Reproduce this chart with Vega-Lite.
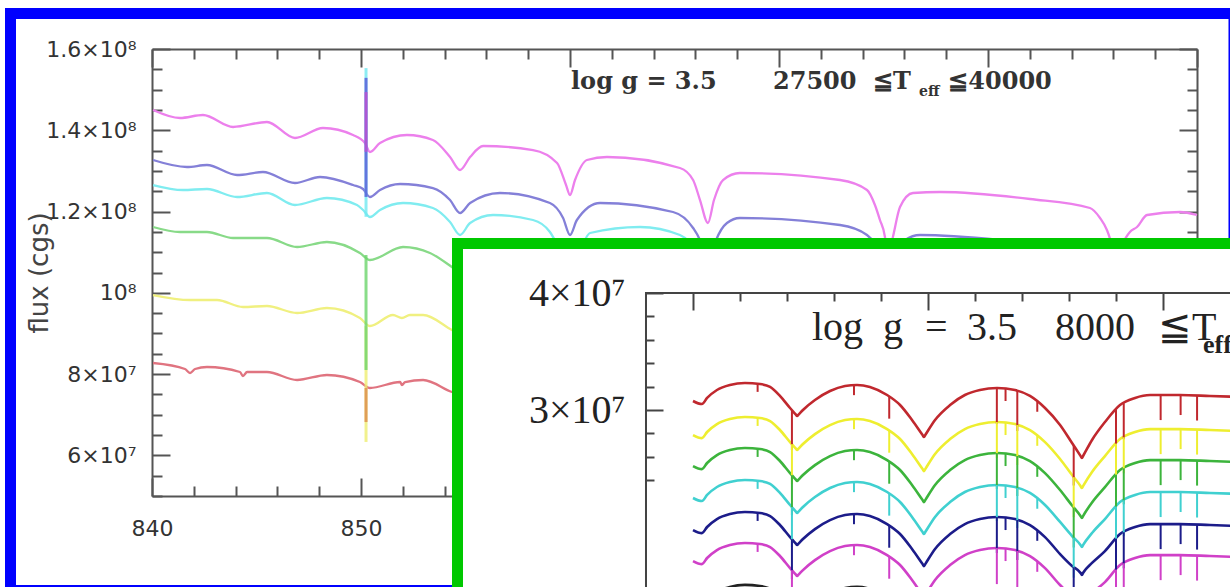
{
"$schema":"https://vega.github.io/schema/vega-lite/v6.json",
"width":1045,"height":447,
"padding":{"left":152,"top":49,"right":33,"bottom":91},
"autosize":{"type":"none"},
"background":"white",
"config":{"view":{"stroke":null}},
"datasets":{
"bm":[{"w":840.05,"f":1.4499e8},{"w":841.34,"f":1.4302e8},{"w":842.44,"f":1.4376e8},{"w":843.88,"f":1.4081e8},{"w":845.5,"f":1.4204e8},{"w":846.84,"f":1.381e8},{"w":848.18,"f":1.4056e8},{"w":849.62,"f":1.3884e8},{"w":850.19,"f":1.3687e8},{"w":850.43,"f":1.3465e8},{"w":850.91,"f":1.3687e8},{"w":852.2,"f":1.3884e8},{"w":853.44,"f":1.3761e8},{"w":854.26,"f":1.3342e8},{"w":854.74,"f":1.3022e8},{"w":855.22,"f":1.3342e8},{"w":855.84,"f":1.3613e8},{"w":858.23,"f":1.3514e8},{"w":859.38,"f":1.3195e8},{"w":859.81,"f":1.2653e8},{"w":860,"f":1.2407e8},{"w":860.24,"f":1.2776e8},{"w":860.81,"f":1.3268e8},{"w":861.77,"f":1.3342e8},{"w":865.26,"f":1.3072e8},{"w":865.89,"f":1.2776e8},{"w":866.22,"f":1.2284e8},{"w":866.6,"f":1.1718e8},{"w":866.89,"f":1.2284e8},{"w":867.32,"f":1.2776e8},{"w":868.13,"f":1.2949e8},{"w":872.92,"f":1.2776e8},{"w":874.21,"f":1.253e8},{"w":874.59,"f":1.2161e8},{"w":874.83,"f":1.1792e8},{"w":875.07,"f":1.1374e8},{"w":875.17,"f":1.0808e8},{"w":875.45,"f":1.1374e8},{"w":875.79,"f":1.2112e8},{"w":876.41,"f":1.2456e8},{"w":877.7,"f":1.2481e8},{"w":882.01,"f":1.2309e8},{"w":884.88,"f":1.2087e8},{"w":885.36,"f":1.1841e8},{"w":885.69,"f":1.1546e8},{"w":885.93,"f":1.1177e8},{"w":886.12,"f":1.0808e8},{"w":886.41,"f":1.1177e8},{"w":886.79,"f":1.1497e8},{"w":887.13,"f":1.162e8},{"w":887.61,"f":1.1915e8},{"w":889.19,"f":1.1989e8},{"w":890,"f":1.1915e8}],
"bb":[{"w":840.05,"f":1.3268e8},{"w":841.67,"f":1.3096e8},{"w":842.63,"f":1.3145e8},{"w":844.07,"f":1.2899e8},{"w":845.31,"f":1.2973e8},{"w":846.84,"f":1.2702e8},{"w":848.04,"f":1.285e8},{"w":849.62,"f":1.2653e8},{"w":850.1,"f":1.2555e8},{"w":850.43,"f":1.2358e8},{"w":850.91,"f":1.253e8},{"w":851.87,"f":1.2678e8},{"w":853.44,"f":1.2579e8},{"w":854.26,"f":1.2284e8},{"w":854.74,"f":1.1964e8},{"w":855.22,"f":1.221e8},{"w":856.65,"f":1.2456e8},{"w":859.04,"f":1.221e8},{"w":859.67,"f":1.1841e8},{"w":860,"f":1.1423e8},{"w":860.33,"f":1.1792e8},{"w":861.44,"f":1.221e8},{"w":864.93,"f":1.1989e8},{"w":865.89,"f":1.1595e8},{"w":866.22,"f":1.13e8},{"w":866.6,"f":1.0685e8},{"w":866.99,"f":1.13e8},{"w":867.51,"f":1.1718e8},{"w":868.13,"f":1.1841e8},{"w":872.92,"f":1.1669e8},{"w":874.21,"f":1.1423e8},{"w":874.83,"f":1.0931e8},{"w":875.17,"f":1.0315e8},{"w":875.55,"f":1.0931e8},{"w":876.03,"f":1.13e8},{"w":876.75,"f":1.1423e8},{"w":880.57,"f":1.13e8},{"w":884.88,"f":1.1004e8},{"w":886.22,"f":0.9823e8},{"w":887.27,"f":1.0931e8},{"w":890,"f":1.0857e8}],
"bc":[{"w":840.05,"f":1.2653e8},{"w":841.48,"f":1.253e8},{"w":842.63,"f":1.2555e8},{"w":844.07,"f":1.2358e8},{"w":845.5,"f":1.2456e8},{"w":846.84,"f":1.2161e8},{"w":848.37,"f":1.2333e8},{"w":849.81,"f":1.2161e8},{"w":850.1,"f":1.2038e8},{"w":850.43,"f":1.1866e8},{"w":850.91,"f":1.2038e8},{"w":852.01,"f":1.221e8},{"w":853.44,"f":1.2087e8},{"w":854.26,"f":1.1743e8},{"w":854.74,"f":1.1423e8},{"w":855.22,"f":1.1718e8},{"w":856.32,"f":1.1915e8},{"w":858.23,"f":1.1792e8},{"w":859.04,"f":1.1497e8},{"w":859.52,"f":1.1054e8},{"w":860,"f":1.0561e8},{"w":860.48,"f":1.1054e8},{"w":860.96,"f":1.1472e8},{"w":863.35,"f":1.162e8},{"w":865.26,"f":1.1423e8},{"w":866.22,"f":1.0808e8},{"w":866.6,"f":1.0192e8},{"w":867.18,"f":1.0808e8},{"w":868.13,"f":1.1177e8},{"w":872.92,"f":1.1004e8},{"w":875.17,"f":0.9577e8},{"w":877.7,"f":1.0758e8},{"w":890,"f":1.0192e8}],
"bg":[{"w":840.05,"f":1.162e8},{"w":841.34,"f":1.1497e8},{"w":842.63,"f":1.1497e8},{"w":843.88,"f":1.1349e8},{"w":845.5,"f":1.1349e8},{"w":846.94,"f":1.1127e8},{"w":848.37,"f":1.1251e8},{"w":849.95,"f":1.098e8},{"w":850.43,"f":1.0808e8},{"w":852.01,"f":1.1127e8},{"w":853.3,"f":1.098e8},{"w":854.35,"f":1.0635e8},{"w":855.22,"f":1.0315e8},{"w":857.61,"f":1.0438e8},{"w":859.67,"f":0.9823e8},{"w":860,"f":0.9331e8},{"w":861.44,"f":1.0069e8}],
"by":[{"w":840.05,"f":0.9946e8},{"w":841.82,"f":0.9823e8},{"w":843.11,"f":0.9823e8},{"w":844.35,"f":0.9651e8},{"w":845.5,"f":0.9676e8},{"w":846.94,"f":0.9503e8},{"w":848.37,"f":0.9626e8},{"w":849.95,"f":0.938e8},{"w":850.43,"f":0.9183e8},{"w":851.53,"f":0.9454e8},{"w":851.96,"f":0.938e8},{"w":852.34,"f":0.9454e8},{"w":852.97,"f":0.9454e8},{"w":854.35,"f":0.9085e8},{"w":855.69,"f":0.8716e8},{"w":858.09,"f":0.8839e8},{"w":860,"f":0.7855e8}],
"br":[{"w":840.05,"f":0.8273e8},{"w":841.58,"f":0.8125e8},{"w":841.82,"f":0.8027e8},{"w":842.06,"f":0.8125e8},{"w":842.63,"f":0.8174e8},{"w":844.21,"f":0.8051e8},{"w":844.35,"f":0.7953e8},{"w":844.55,"f":0.8051e8},{"w":845.5,"f":0.8051e8},{"w":846.94,"f":0.7855e8},{"w":848.37,"f":0.7978e8},{"w":849.95,"f":0.7805e8},{"w":850.43,"f":0.7658e8},{"w":851.87,"f":0.7805e8},{"w":851.96,"f":0.7731e8},{"w":852.11,"f":0.7805e8},{"w":852.97,"f":0.7855e8},{"w":854.35,"f":0.7559e8},{"w":855.69,"f":0.7362e8},{"w":860,"f":0.687e8}],
"bspk":[{"s":"by","w":850.24,"t":0.918e8,"b":0.633e8},{"s":"br","w":850.24,"t":0.766e8,"b":0.682e8},{"s":"bg","w":850.24,"t":1.093e8,"b":0.81e8},{"s":"bc","w":850.24,"t":1.187e8,"b":1.553e8},{"s":"bb","w":850.24,"t":1.236e8,"b":1.529e8},{"s":"bm","w":850.24,"t":1.347e8,"b":1.494e8}],
"fR":[{"w":850,"f":3.077e7},{"w":850.38,"f":3.051e7},{"w":850.6,"f":3.103e7},{"w":851.02,"f":3.171e7},{"w":851.57,"f":3.214e7},{"w":852.21,"f":3.231e7},{"w":852.85,"f":3.222e7},{"w":853.28,"f":3.197e7},{"w":853.7,"f":3.12e7},{"w":854.13,"f":3.017e7},{"w":854.43,"f":2.949e7},{"w":854.68,"f":3.0e7},{"w":855.19,"f":3.085e7},{"w":855.83,"f":3.162e7},{"w":856.47,"f":3.205e7},{"w":856.98,"f":3.214e7},{"w":857.53,"f":3.197e7},{"w":858.26,"f":3.128e7},{"w":858.81,"f":3.043e7},{"w":859.32,"f":2.915e7},{"w":859.83,"f":2.769e7},{"w":860.3,"f":2.915e7},{"w":860.94,"f":3.043e7},{"w":861.57,"f":3.128e7},{"w":862.21,"f":3.171e7},{"w":862.94,"f":3.188e7},{"w":863.7,"f":3.171e7},{"w":864.34,"f":3.12e7},{"w":864.98,"f":3.017e7},{"w":865.62,"f":2.872e7},{"w":866.13,"f":2.718e7},{"w":866.55,"f":2.59e7},{"w":866.98,"f":2.744e7},{"w":867.53,"f":2.897e7},{"w":868.17,"f":3.043e7},{"w":868.81,"f":3.103e7},{"w":869.45,"f":3.128e7},{"w":870.72,"f":3.128e7},{"w":872,"f":3.12e7},{"w":873.28,"f":3.111e7},{"w":854.37,"f":2.963e7},{"w":854.49,"f":2.961e7},{"w":859.77,"f":2.786e7},{"w":859.89,"f":2.788e7},{"w":866.49,"f":2.608e7},{"w":866.61,"f":2.611e7}],
"fY":[{"w":850,"f":2.786e7},{"w":850.38,"f":2.76e7},{"w":850.6,"f":2.812e7},{"w":851.02,"f":2.88e7},{"w":851.57,"f":2.923e7},{"w":852.21,"f":2.94e7},{"w":852.85,"f":2.931e7},{"w":853.28,"f":2.906e7},{"w":853.7,"f":2.829e7},{"w":854.13,"f":2.726e7},{"w":854.43,"f":2.658e7},{"w":854.68,"f":2.709e7},{"w":855.19,"f":2.794e7},{"w":855.83,"f":2.871e7},{"w":856.47,"f":2.914e7},{"w":856.98,"f":2.923e7},{"w":857.53,"f":2.906e7},{"w":858.26,"f":2.837e7},{"w":858.81,"f":2.752e7},{"w":859.32,"f":2.624e7},{"w":859.83,"f":2.478e7},{"w":860.3,"f":2.624e7},{"w":860.94,"f":2.752e7},{"w":861.57,"f":2.837e7},{"w":862.21,"f":2.88e7},{"w":862.94,"f":2.897e7},{"w":863.7,"f":2.88e7},{"w":864.34,"f":2.829e7},{"w":864.98,"f":2.726e7},{"w":865.62,"f":2.581e7},{"w":866.13,"f":2.444e7},{"w":866.55,"f":2.333e7},{"w":866.98,"f":2.47e7},{"w":867.53,"f":2.606e7},{"w":868.17,"f":2.752e7},{"w":868.81,"f":2.812e7},{"w":869.45,"f":2.837e7},{"w":870.72,"f":2.837e7},{"w":872,"f":2.829e7},{"w":873.28,"f":2.82e7},{"w":854.37,"f":2.672e7},{"w":854.49,"f":2.67e7},{"w":859.77,"f":2.495e7},{"w":859.89,"f":2.497e7},{"w":866.49,"f":2.351e7},{"w":866.61,"f":2.354e7}],
"fG":[{"w":850,"f":2.521e7},{"w":850.38,"f":2.495e7},{"w":850.6,"f":2.547e7},{"w":851.02,"f":2.615e7},{"w":851.57,"f":2.658e7},{"w":852.21,"f":2.675e7},{"w":852.85,"f":2.666e7},{"w":853.28,"f":2.641e7},{"w":853.7,"f":2.564e7},{"w":854.13,"f":2.461e7},{"w":854.43,"f":2.393e7},{"w":854.68,"f":2.444e7},{"w":855.19,"f":2.529e7},{"w":855.83,"f":2.606e7},{"w":856.47,"f":2.649e7},{"w":856.98,"f":2.658e7},{"w":857.53,"f":2.641e7},{"w":858.26,"f":2.572e7},{"w":858.81,"f":2.487e7},{"w":859.32,"f":2.359e7},{"w":859.83,"f":2.213e7},{"w":860.3,"f":2.359e7},{"w":860.94,"f":2.487e7},{"w":861.57,"f":2.572e7},{"w":862.21,"f":2.615e7},{"w":862.94,"f":2.632e7},{"w":863.7,"f":2.615e7},{"w":864.34,"f":2.564e7},{"w":864.98,"f":2.461e7},{"w":865.62,"f":2.316e7},{"w":866.13,"f":2.184e7},{"w":866.55,"f":2.077e7},{"w":866.98,"f":2.21e7},{"w":867.53,"f":2.341e7},{"w":868.17,"f":2.487e7},{"w":868.81,"f":2.547e7},{"w":869.45,"f":2.572e7},{"w":870.72,"f":2.572e7},{"w":872,"f":2.564e7},{"w":873.28,"f":2.555e7},{"w":854.37,"f":2.407e7},{"w":854.49,"f":2.405e7},{"w":859.77,"f":2.23e7},{"w":859.89,"f":2.232e7},{"w":866.49,"f":2.095e7},{"w":866.61,"f":2.098e7}],
"fC":[{"w":850,"f":2.248e7},{"w":850.38,"f":2.222e7},{"w":850.6,"f":2.274e7},{"w":851.02,"f":2.342e7},{"w":851.57,"f":2.385e7},{"w":852.21,"f":2.402e7},{"w":852.85,"f":2.393e7},{"w":853.28,"f":2.368e7},{"w":853.7,"f":2.291e7},{"w":854.13,"f":2.188e7},{"w":854.43,"f":2.12e7},{"w":854.68,"f":2.171e7},{"w":855.19,"f":2.256e7},{"w":855.83,"f":2.333e7},{"w":856.47,"f":2.376e7},{"w":856.98,"f":2.385e7},{"w":857.53,"f":2.368e7},{"w":858.26,"f":2.299e7},{"w":858.81,"f":2.214e7},{"w":859.32,"f":2.086e7},{"w":859.83,"f":1.94e7},{"w":860.3,"f":2.086e7},{"w":860.94,"f":2.214e7},{"w":861.57,"f":2.299e7},{"w":862.21,"f":2.342e7},{"w":862.94,"f":2.359e7},{"w":863.7,"f":2.342e7},{"w":864.34,"f":2.291e7},{"w":864.98,"f":2.188e7},{"w":865.62,"f":2.043e7},{"w":866.13,"f":1.923e7},{"w":866.55,"f":1.829e7},{"w":866.98,"f":1.949e7},{"w":867.53,"f":2.068e7},{"w":868.17,"f":2.214e7},{"w":868.81,"f":2.274e7},{"w":869.45,"f":2.299e7},{"w":870.72,"f":2.299e7},{"w":872,"f":2.291e7},{"w":873.28,"f":2.282e7},{"w":854.37,"f":2.134e7},{"w":854.49,"f":2.132e7},{"w":859.77,"f":1.957e7},{"w":859.89,"f":1.959e7},{"w":866.49,"f":1.847e7},{"w":866.61,"f":1.85e7}],
"fB":[{"w":850,"f":1.974e7},{"w":850.38,"f":1.948e7},{"w":850.6,"f":2.0e7},{"w":851.02,"f":2.068e7},{"w":851.57,"f":2.111e7},{"w":852.21,"f":2.128e7},{"w":852.85,"f":2.119e7},{"w":853.28,"f":2.094e7},{"w":853.7,"f":2.017e7},{"w":854.13,"f":1.914e7},{"w":854.43,"f":1.846e7},{"w":854.68,"f":1.897e7},{"w":855.19,"f":1.982e7},{"w":855.83,"f":2.059e7},{"w":856.47,"f":2.102e7},{"w":856.98,"f":2.111e7},{"w":857.53,"f":2.094e7},{"w":858.26,"f":2.025e7},{"w":858.81,"f":1.94e7},{"w":859.32,"f":1.812e7},{"w":859.83,"f":1.666e7},{"w":860.3,"f":1.812e7},{"w":860.94,"f":1.94e7},{"w":861.57,"f":2.025e7},{"w":862.21,"f":2.068e7},{"w":862.94,"f":2.085e7},{"w":863.7,"f":2.068e7},{"w":864.34,"f":2.017e7},{"w":864.98,"f":1.914e7},{"w":865.62,"f":1.769e7},{"w":866.13,"f":1.667e7},{"w":866.55,"f":1.59e7},{"w":866.98,"f":1.693e7},{"w":867.53,"f":1.794e7},{"w":868.17,"f":1.94e7},{"w":868.81,"f":2.0e7},{"w":869.45,"f":2.025e7},{"w":870.72,"f":2.025e7},{"w":872,"f":2.017e7},{"w":873.28,"f":2.008e7},{"w":854.37,"f":1.86e7},{"w":854.49,"f":1.858e7},{"w":859.77,"f":1.683e7},{"w":859.89,"f":1.685e7},{"w":866.49,"f":1.608e7},{"w":866.61,"f":1.611e7}],
"fM":[{"w":850,"f":1.709e7},{"w":850.38,"f":1.683e7},{"w":850.6,"f":1.735e7},{"w":851.02,"f":1.803e7},{"w":851.57,"f":1.846e7},{"w":852.21,"f":1.863e7},{"w":852.85,"f":1.854e7},{"w":853.28,"f":1.829e7},{"w":853.7,"f":1.752e7},{"w":854.13,"f":1.649e7},{"w":854.43,"f":1.581e7},{"w":854.68,"f":1.632e7},{"w":855.19,"f":1.717e7},{"w":855.83,"f":1.794e7},{"w":856.47,"f":1.837e7},{"w":856.98,"f":1.846e7},{"w":857.53,"f":1.829e7},{"w":858.26,"f":1.76e7},{"w":858.81,"f":1.675e7},{"w":859.32,"f":1.547e7},{"w":859.83,"f":1.401e7},{"w":860.3,"f":1.547e7},{"w":860.94,"f":1.675e7},{"w":861.57,"f":1.76e7},{"w":862.21,"f":1.803e7},{"w":862.94,"f":1.82e7},{"w":863.7,"f":1.803e7},{"w":864.34,"f":1.752e7},{"w":864.98,"f":1.649e7},{"w":865.62,"f":1.504e7},{"w":866.13,"f":1.41e7},{"w":866.55,"f":1.342e7},{"w":866.98,"f":1.436e7},{"w":867.53,"f":1.529e7},{"w":868.17,"f":1.675e7},{"w":868.81,"f":1.735e7},{"w":869.45,"f":1.76e7},{"w":870.72,"f":1.76e7},{"w":872,"f":1.752e7},{"w":873.28,"f":1.743e7},{"w":854.37,"f":1.595e7},{"w":854.49,"f":1.593e7},{"w":859.77,"f":1.418e7},{"w":859.89,"f":1.42e7},{"w":866.49,"f":1.36e7},{"w":866.61,"f":1.363e7}],
"fK":[{"w":850,"f":1.351e7},{"w":850.38,"f":1.325e7},{"w":850.6,"f":1.377e7},{"w":851.02,"f":1.445e7},{"w":851.57,"f":1.488e7},{"w":852.21,"f":1.505e7},{"w":852.85,"f":1.496e7},{"w":853.28,"f":1.471e7},{"w":853.7,"f":1.394e7},{"w":854.13,"f":1.291e7},{"w":854.43,"f":1.223e7},{"w":854.68,"f":1.274e7},{"w":855.19,"f":1.359e7},{"w":855.83,"f":1.436e7},{"w":856.47,"f":1.479e7},{"w":856.98,"f":1.488e7},{"w":857.53,"f":1.471e7},{"w":858.26,"f":1.402e7},{"w":858.81,"f":1.317e7},{"w":859.32,"f":1.189e7},{"w":859.83,"f":1.043e7},{"w":860.3,"f":1.189e7},{"w":860.94,"f":1.317e7},{"w":861.57,"f":1.402e7},{"w":862.21,"f":1.445e7},{"w":862.94,"f":1.462e7},{"w":863.7,"f":1.445e7},{"w":864.34,"f":1.394e7},{"w":864.98,"f":1.291e7},{"w":865.62,"f":1.146e7},{"w":866.13,"f":1.061e7},{"w":866.55,"f":1.001e7},{"w":866.98,"f":1.087e7},{"w":867.53,"f":1.171e7},{"w":868.17,"f":1.317e7},{"w":868.81,"f":1.377e7},{"w":869.45,"f":1.402e7},{"w":870.72,"f":1.402e7},{"w":872,"f":1.394e7},{"w":873.28,"f":1.385e7},{"w":854.37,"f":1.237e7},{"w":854.49,"f":1.235e7},{"w":859.77,"f":1.06e7},{"w":859.89,"f":1.062e7},{"w":866.49,"f":1.019e7},{"w":866.61,"f":1.022e7}],
"fspk":[
{"s":"R","w":852.75,"t":3.223e7,"b":3.155e7},{"s":"R","w":854.21,"t":2.999e7,"b":2.657e7},{"s":"R","w":856.85,"t":3.212e7,"b":3.127e7},{"s":"R","w":858.35,"t":3.114e7,"b":2.926e7},{"s":"R","w":862.93,"t":3.188e7,"b":2.88e7},{"s":"R","w":863.3,"t":3.18e7,"b":3.077e7},{"s":"R","w":863.8,"t":3.163e7,"b":2.821e7},{"s":"R","w":864.65,"t":3.07e7,"b":2.985e7},{"s":"R","w":866.2,"t":2.697e7,"b":2.355e7},{"s":"R","w":868.0,"t":3.004e7,"b":2.662e7},{"s":"R","w":868.33,"t":3.058e7,"b":2.75e7},{"s":"R","w":869.9,"t":3.128e7,"b":2.914e7},{"s":"R","w":870.75,"t":3.128e7,"b":2.957e7},{"s":"R","w":871.45,"t":3.124e7,"b":2.91e7},
{"s":"Y","w":852.75,"t":2.932e7,"b":2.864e7},{"s":"Y","w":854.21,"t":2.708e7,"b":2.366e7},{"s":"Y","w":856.85,"t":2.921e7,"b":2.836e7},{"s":"Y","w":858.35,"t":2.823e7,"b":2.635e7},{"s":"Y","w":862.93,"t":2.897e7,"b":2.589e7},{"s":"Y","w":863.3,"t":2.889e7,"b":2.786e7},{"s":"Y","w":863.8,"t":2.872e7,"b":2.53e7},{"s":"Y","w":864.65,"t":2.779e7,"b":2.694e7},{"s":"Y","w":866.2,"t":2.426e7,"b":2.084e7},{"s":"Y","w":868.0,"t":2.713e7,"b":2.371e7},{"s":"Y","w":868.33,"t":2.767e7,"b":2.459e7},{"s":"Y","w":869.9,"t":2.837e7,"b":2.623e7},{"s":"Y","w":870.75,"t":2.837e7,"b":2.666e7},{"s":"Y","w":871.45,"t":2.833e7,"b":2.619e7},
{"s":"G","w":852.75,"t":2.667e7,"b":2.599e7},{"s":"G","w":854.21,"t":2.443e7,"b":2.101e7},{"s":"G","w":856.85,"t":2.656e7,"b":2.571e7},{"s":"G","w":858.35,"t":2.558e7,"b":2.37e7},{"s":"G","w":862.93,"t":2.632e7,"b":2.324e7},{"s":"G","w":863.3,"t":2.624e7,"b":2.521e7},{"s":"G","w":863.8,"t":2.607e7,"b":2.265e7},{"s":"G","w":864.65,"t":2.514e7,"b":2.429e7},{"s":"G","w":866.2,"t":2.167e7,"b":1.825e7},{"s":"G","w":868.0,"t":2.448e7,"b":2.106e7},{"s":"G","w":868.33,"t":2.502e7,"b":2.194e7},{"s":"G","w":869.9,"t":2.572e7,"b":2.358e7},{"s":"G","w":870.75,"t":2.572e7,"b":2.401e7},{"s":"G","w":871.45,"t":2.568e7,"b":2.354e7},
{"s":"C","w":852.75,"t":2.394e7,"b":2.326e7},{"s":"C","w":854.21,"t":2.17e7,"b":1.828e7},{"s":"C","w":856.85,"t":2.383e7,"b":2.298e7},{"s":"C","w":858.35,"t":2.285e7,"b":2.097e7},{"s":"C","w":862.93,"t":2.359e7,"b":2.051e7},{"s":"C","w":863.3,"t":2.351e7,"b":2.248e7},{"s":"C","w":863.8,"t":2.334e7,"b":1.992e7},{"s":"C","w":864.65,"t":2.241e7,"b":2.156e7},{"s":"C","w":866.2,"t":1.909e7,"b":1.567e7},{"s":"C","w":868.0,"t":2.175e7,"b":1.833e7},{"s":"C","w":868.33,"t":2.229e7,"b":1.921e7},{"s":"C","w":869.9,"t":2.299e7,"b":2.085e7},{"s":"C","w":870.75,"t":2.299e7,"b":2.128e7},{"s":"C","w":871.45,"t":2.295e7,"b":2.081e7},
{"s":"B","w":852.75,"t":2.12e7,"b":2.052e7},{"s":"B","w":854.21,"t":1.896e7,"b":1.554e7},{"s":"B","w":856.85,"t":2.109e7,"b":2.024e7},{"s":"B","w":858.35,"t":2.011e7,"b":1.823e7},{"s":"B","w":862.93,"t":2.085e7,"b":1.777e7},{"s":"B","w":863.3,"t":2.077e7,"b":1.974e7},{"s":"B","w":863.8,"t":2.06e7,"b":1.718e7},{"s":"B","w":864.65,"t":1.967e7,"b":1.882e7},{"s":"B","w":866.2,"t":1.656e7,"b":1.314e7},{"s":"B","w":868.0,"t":1.901e7,"b":1.559e7},{"s":"B","w":868.33,"t":1.955e7,"b":1.647e7},{"s":"B","w":869.9,"t":2.025e7,"b":1.811e7},{"s":"B","w":870.75,"t":2.025e7,"b":1.854e7},{"s":"B","w":871.45,"t":2.021e7,"b":1.807e7},
{"s":"M","w":852.75,"t":1.855e7,"b":1.787e7},{"s":"M","w":854.21,"t":1.631e7,"b":1.289e7},{"s":"M","w":856.85,"t":1.844e7,"b":1.759e7},{"s":"M","w":858.35,"t":1.746e7,"b":1.558e7},{"s":"M","w":862.93,"t":1.82e7,"b":1.512e7},{"s":"M","w":863.3,"t":1.812e7,"b":1.709e7},{"s":"M","w":863.8,"t":1.795e7,"b":1.453e7},{"s":"M","w":864.65,"t":1.702e7,"b":1.617e7},{"s":"M","w":866.2,"t":1.401e7,"b":1.059e7},{"s":"M","w":868.0,"t":1.636e7,"b":1.294e7},{"s":"M","w":868.33,"t":1.69e7,"b":1.382e7},{"s":"M","w":869.9,"t":1.76e7,"b":1.546e7},{"s":"M","w":870.75,"t":1.76e7,"b":1.589e7},{"s":"M","w":871.45,"t":1.756e7,"b":1.542e7}
]
},
"layer":[
{
"layer":[
{"data":{"values":[{"x1":833.23,"x2":891.77,"y1":1.68736e8,"y2":2.6743e7}]},
 "mark":{"type":"rect","filled":false,"stroke":"#0000ff","strokeWidth":11},
 "encoding":{
  "x":{"field":"x1","type":"quantitative","scale":{"domain":[840,890],"nice":false,"zero":false},
   "axis":{"orient":"bottom","values":[840,842,844,846,848,850,852,854,856,858,860,862,864,866,868,870,872,874,876,878,880,882,884,886,888,890],
    "domainColor":"#555","domainWidth":2,"grid":false,"tickColor":"#555","tickWidth":2,"tickSize":0,
    "labelExpr":"datum.value % 10 === 0 ? format(datum.value, 'd') : ''",
    "labelFont":"DejaVu Sans","labelFontSize":22,"labelColor":"#333","labelPadding":22,"labelFlush":false,"labelOverlap":false,"title":null,
    "encoding":{"ticks":{"y2":{"condition":{"test":"datum.value % 10 === 0","value":-18},"value":-10}}}}},
  "x2":{"field":"x2"},
  "y":{"field":"y1","type":"quantitative","scale":{"domain":[50000000,160000000],"nice":false,"zero":false},
   "axis":{"orient":"left","values":[50000000,55000000,60000000,65000000,70000000,75000000,80000000,85000000,90000000,95000000,100000000,105000000,110000000,115000000,120000000,125000000,130000000,135000000,140000000,145000000,150000000,155000000,160000000],
    "domainColor":"#555","domainWidth":2,"grid":false,"tickColor":"#555","tickWidth":2,"tickSize":0,
    "labelExpr":"datum.value % 20000000 !== 0 ? '' : (datum.value === 100000000 ? '10⁸' : (datum.value > 100000000 ? format(datum.value / 100000000, '.1f') + '×10⁸' : format(datum.value / 10000000, 'd') + '×10⁷'))",
    "labelFont":"DejaVu Sans","labelFontSize":22,"labelColor":"#333","labelPadding":16,"labelFlush":false,"labelOverlap":false,
    "title":"flux (cgs)","titleFont":"DejaVu Sans","titleFontSize":26,"titleFontWeight":"normal","titleColor":"#444","titleX":-113,"titleY":223.5,"titleAngle":270,"titleBaseline":"middle","titleAlign":"center",
    "encoding":{"ticks":{"x2":{"condition":{"test":"datum.value % 20000000 === 0","value":18},"value":10}}}}},
  "y2":{"field":"y2"}
 }},
{"data":{"values":[{"t":"log g = 3.5","w":860.048,"f":150160000},{"t":"27500","w":869.713,"f":150160000},{"t":"≦T","w":874.498,"f":150160000},{"t":"≦40000","w":878.1,"f":150160000}]},
 "mark":{"type":"text","align":"left","baseline":"alphabetic","font":"DejaVu Serif","fontSize":24,"fontWeight":"bold","color":"#333"},
 "encoding":{
  "x":{"field":"w","type":"quantitative","scale":{"domain":[840,890],"nice":false,"zero":false},
   "axis":{"orient":"top","values":[840,842,844,846,848,850,852,854,856,858,860,862,864,866,868,870,872,874,876,878,880,882,884,886,888,890],
    "domainColor":"#555","domainWidth":2,"grid":false,"tickColor":"#555","tickWidth":2,"tickSize":0,"labels":false,"title":null,
    "encoding":{"ticks":{"y2":{"condition":{"test":"datum.value % 10 === 0","value":18},"value":10}}}}},
  "y":{"field":"f","type":"quantitative","scale":{"domain":[50000000,160000000],"nice":false,"zero":false},
   "axis":{"orient":"right","values":[50000000,55000000,60000000,65000000,70000000,75000000,80000000,85000000,90000000,95000000,100000000,105000000,110000000,115000000,120000000,125000000,130000000,135000000,140000000,145000000,150000000,155000000,160000000],
    "domainColor":"#555","domainWidth":2,"grid":false,"tickColor":"#555","tickWidth":2,"tickSize":0,"labels":false,"title":null,
    "encoding":{"ticks":{"x2":{"condition":{"test":"datum.value % 20000000 === 0","value":-18},"value":-10}}}}},
  "text":{"field":"t"}
 }},
{"data":{"values":[{"t":"eff","w":876.699,"f":148430000}]},
 "mark":{"type":"text","align":"left","baseline":"alphabetic","font":"DejaVu Serif","fontSize":14,"fontWeight":"bold","color":"#333"},
 "encoding":{"x":{"field":"w","type":"quantitative","scale":{"domain":[840,890],"nice":false,"zero":false},"axis":null},
  "y":{"field":"f","type":"quantitative","scale":{"domain":[50000000,160000000],"nice":false,"zero":false},"axis":null},"text":{"field":"t"}}},
{"data":{"name":"by"},"mark":{"type":"line","color":"#f0f080","strokeWidth":2.3,"interpolate":"monotone"},"encoding":{"x":{"field":"w","type":"quantitative","scale":{"domain":[840,890],"nice":false,"zero":false},"axis":null},"y":{"field":"f","type":"quantitative","scale":{"domain":[50000000,160000000],"nice":false,"zero":false},"axis":null}}},
{"data":{"name":"br"},"mark":{"type":"line","color":"#e07480","strokeWidth":2.3,"interpolate":"monotone"},"encoding":{"x":{"field":"w","type":"quantitative","scale":{"domain":[840,890],"nice":false,"zero":false},"axis":null},"y":{"field":"f","type":"quantitative","scale":{"domain":[50000000,160000000],"nice":false,"zero":false},"axis":null}}},
{"data":{"name":"bg"},"mark":{"type":"line","color":"#88da88","strokeWidth":2.3,"interpolate":"monotone"},"encoding":{"x":{"field":"w","type":"quantitative","scale":{"domain":[840,890],"nice":false,"zero":false},"axis":null},"y":{"field":"f","type":"quantitative","scale":{"domain":[50000000,160000000],"nice":false,"zero":false},"axis":null}}},
{"data":{"name":"bc"},"mark":{"type":"line","color":"#80ecf0","strokeWidth":2.3,"interpolate":"monotone"},"encoding":{"x":{"field":"w","type":"quantitative","scale":{"domain":[840,890],"nice":false,"zero":false},"axis":null},"y":{"field":"f","type":"quantitative","scale":{"domain":[50000000,160000000],"nice":false,"zero":false},"axis":null}}},
{"data":{"name":"bb"},"mark":{"type":"line","color":"#8480d8","strokeWidth":2.3,"interpolate":"monotone"},"encoding":{"x":{"field":"w","type":"quantitative","scale":{"domain":[840,890],"nice":false,"zero":false},"axis":null},"y":{"field":"f","type":"quantitative","scale":{"domain":[50000000,160000000],"nice":false,"zero":false},"axis":null}}},
{"data":{"name":"bm"},"mark":{"type":"line","color":"#ec80ec","strokeWidth":2.3,"interpolate":"monotone"},"encoding":{"x":{"field":"w","type":"quantitative","scale":{"domain":[840,890],"nice":false,"zero":false},"axis":null},"y":{"field":"f","type":"quantitative","scale":{"domain":[50000000,160000000],"nice":false,"zero":false},"axis":null}}},
{"data":{"name":"bspk"},"mark":{"type":"rule","strokeWidth":3,"opacity":0.8},
 "encoding":{"x":{"field":"w","type":"quantitative","scale":{"domain":[840,890],"nice":false,"zero":false},"axis":null},
  "y":{"field":"t","type":"quantitative","scale":{"domain":[50000000,160000000],"nice":false,"zero":false},"axis":null},"y2":{"field":"b"},
  "color":{"field":"s","type":"nominal","legend":null,"scale":{"domain":["by","br","bg","bc","bb","bm","R","Y","G","C","B","M"],"range":["#eeee70","#dc8a4a","#6cd46c","#70e8f0","#5858d8","#c050d0","#c0282e","#eeee30","#3cb43c","#40d0d0","#1c1c8a","#d040c8"]}}}}
],
"resolve":{"axis":{"x":"independent","y":"independent"}}
},
{
"layer":[
{"data":{"values":[{"x1":839.979,"x2":874.128,"y1":4.4231e7,"y2":1.2051e7}]},
 "mark":{"type":"rect","fill":"white","stroke":"#00c800","strokeWidth":11},
 "encoding":{
  "x":{"field":"x1","type":"quantitative","scale":{"domain":[826.979,871.447],"nice":false,"zero":false},
   "axis":{"orient":"top","offset":-244,"values":[850,852,854,856,858,860,862,864,866,868,870,872,874],
    "domain":false,"grid":false,"tickColor":"#444","tickWidth":2,"tickSize":0,"labels":false,"title":null,"zindex":2,
    "encoding":{"ticks":{"y2":{"condition":{"test":"datum.value % 10 === 0","value":17},"value":8}}}}},
  "x2":{"field":"x2"},
  "y":{"field":"y1","type":"quantitative","scale":{"domain":[22650000,60855000],"nice":false,"zero":false},
   "axis":{"orient":"left","offset":-494,"values":[14000000,16000000,18000000,20000000,22000000,24000000,26000000,28000000,30000000,32000000,34000000,36000000,38000000,40000000],
    "domain":false,"grid":false,"tickColor":"#444","tickWidth":2,"tickSize":0,
    "labelExpr":"datum.value % 10000000 === 0 ? format(datum.value / 10000000, 'd') + '×10⁷' : ''",
    "labelFont":"Liberation Serif","labelFontSize":40,"labelColor":"#222","labelPadding":21,"labelFlush":false,"labelOverlap":false,"title":null,"zindex":2,
    "encoding":{"ticks":{"x2":{"condition":{"test":"datum.value % 10000000 === 0","value":17},"value":8}}}}},
  "y2":{"field":"y2"}
 }},
{"data":{"values":[{"x1":848,"x2":880,"y1":40000000,"y2":0}]},
 "mark":{"type":"rect","filled":false,"stroke":"#444","strokeWidth":2},
 "encoding":{"x":{"field":"x1","type":"quantitative","scale":{"domain":[826.979,871.447],"nice":false,"zero":false},"axis":null},"x2":{"field":"x2"},
  "y":{"field":"y1","type":"quantitative","scale":{"domain":[22650000,60855000],"nice":false,"zero":false},"axis":null},"y2":{"field":"y2"}}},
{"data":{"name":"fR"},"mark":{"type":"line","color":"#c0282e","strokeWidth":2.6,"interpolate":"monotone"},"encoding":{"x":{"field":"w","type":"quantitative","scale":{"domain":[826.979,871.447],"nice":false,"zero":false},"axis":null},"y":{"field":"f","type":"quantitative","scale":{"domain":[22650000,60855000],"nice":false,"zero":false},"axis":null}}},
{"data":{"name":"fY"},"mark":{"type":"line","color":"#eeee30","strokeWidth":2.6,"interpolate":"monotone"},"encoding":{"x":{"field":"w","type":"quantitative","scale":{"domain":[826.979,871.447],"nice":false,"zero":false},"axis":null},"y":{"field":"f","type":"quantitative","scale":{"domain":[22650000,60855000],"nice":false,"zero":false},"axis":null}}},
{"data":{"name":"fG"},"mark":{"type":"line","color":"#3cb43c","strokeWidth":2.6,"interpolate":"monotone"},"encoding":{"x":{"field":"w","type":"quantitative","scale":{"domain":[826.979,871.447],"nice":false,"zero":false},"axis":null},"y":{"field":"f","type":"quantitative","scale":{"domain":[22650000,60855000],"nice":false,"zero":false},"axis":null}}},
{"data":{"name":"fC"},"mark":{"type":"line","color":"#40d0d0","strokeWidth":2.6,"interpolate":"monotone"},"encoding":{"x":{"field":"w","type":"quantitative","scale":{"domain":[826.979,871.447],"nice":false,"zero":false},"axis":null},"y":{"field":"f","type":"quantitative","scale":{"domain":[22650000,60855000],"nice":false,"zero":false},"axis":null}}},
{"data":{"name":"fB"},"mark":{"type":"line","color":"#1c1c8a","strokeWidth":2.6,"interpolate":"monotone"},"encoding":{"x":{"field":"w","type":"quantitative","scale":{"domain":[826.979,871.447],"nice":false,"zero":false},"axis":null},"y":{"field":"f","type":"quantitative","scale":{"domain":[22650000,60855000],"nice":false,"zero":false},"axis":null}}},
{"data":{"name":"fM"},"mark":{"type":"line","color":"#d040c8","strokeWidth":2.6,"interpolate":"monotone"},"encoding":{"x":{"field":"w","type":"quantitative","scale":{"domain":[826.979,871.447],"nice":false,"zero":false},"axis":null},"y":{"field":"f","type":"quantitative","scale":{"domain":[22650000,60855000],"nice":false,"zero":false},"axis":null}}},
{"data":{"name":"fK"},"mark":{"type":"line","color":"#222222","strokeWidth":2.6,"interpolate":"monotone"},"encoding":{"x":{"field":"w","type":"quantitative","scale":{"domain":[826.979,871.447],"nice":false,"zero":false},"axis":null},"y":{"field":"f","type":"quantitative","scale":{"domain":[22650000,60855000],"nice":false,"zero":false},"axis":null}}},
{"data":{"name":"fspk"},"mark":{"type":"rule","strokeWidth":2},
 "encoding":{"x":{"field":"w","type":"quantitative","scale":{"domain":[826.979,871.447],"nice":false,"zero":false},"axis":null},
  "y":{"field":"t","type":"quantitative","scale":{"domain":[22650000,60855000],"nice":false,"zero":false},"axis":null},"y2":{"field":"b"},
  "color":{"field":"s","type":"nominal","legend":null,"scale":{"domain":["by","br","bg","bc","bb","bm","R","Y","G","C","B","M"],"range":["#eeee70","#dc8a4a","#6cd46c","#70e8f0","#5858d8","#c050d0","#c0282e","#eeee30","#3cb43c","#40d0d0","#1c1c8a","#d040c8"]}}}},
{"data":{"values":[{"t":"log","w":855.064,"f":35983000},{"t":"g","w":858.085,"f":35983000},{"t":"=","w":859.872,"f":35983000},{"t":"3.5","w":861.66,"f":35983000},{"t":"8000","w":865.404,"f":35983000},{"t":"≦T","w":869.787,"f":35983000}]},
 "mark":{"type":"text","align":"left","baseline":"alphabetic","font":"Liberation Serif","fontSize":40,"color":"#222"},
 "encoding":{"x":{"field":"w","type":"quantitative","scale":{"domain":[826.979,871.447],"nice":false,"zero":false},"axis":null},
  "y":{"field":"f","type":"quantitative","scale":{"domain":[22650000,60855000],"nice":false,"zero":false},"axis":null},"text":{"field":"t"}}},
{"data":{"values":[{"t":"eff","w":871.702,"f":34872000}]},
 "mark":{"type":"text","align":"left","baseline":"alphabetic","font":"Liberation Serif","fontSize":26,"fontWeight":"bold","color":"#222"},
 "encoding":{"x":{"field":"w","type":"quantitative","scale":{"domain":[826.979,871.447],"nice":false,"zero":false},"axis":null},
  "y":{"field":"f","type":"quantitative","scale":{"domain":[22650000,60855000],"nice":false,"zero":false},"axis":null},"text":{"field":"t"}}}
],
"resolve":{"axis":{"x":"independent","y":"independent"}}
}
],
"resolve":{"scale":{"x":"independent","y":"independent"},"axis":{"x":"independent","y":"independent"}}
}
